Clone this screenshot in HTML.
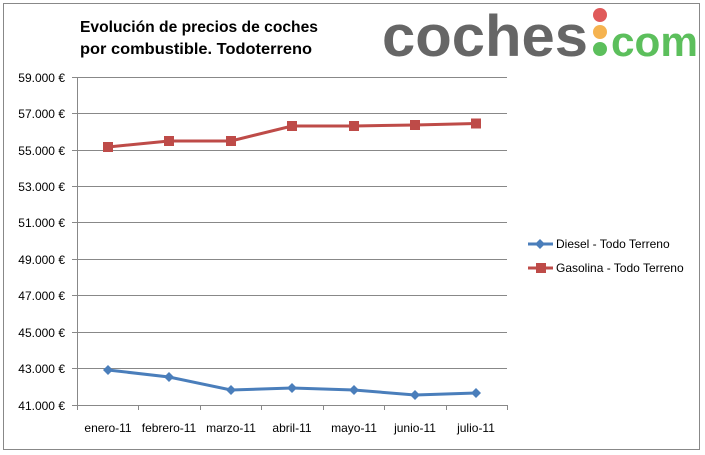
<!DOCTYPE html>
<html><head><meta charset="utf-8"><style>body{margin:0;background:#fff}svg{display:block}</style></head><body>
<svg width="705" height="455" xmlns="http://www.w3.org/2000/svg" font-family="Liberation Sans, sans-serif">
<rect x="0" y="0" width="705" height="455" fill="#fff"/>
<rect x="3.5" y="3.5" width="696" height="446" fill="none" stroke="#888" stroke-width="1"/>
<text x="80" y="32" font-size="16" font-weight="bold" fill="#000" textLength="238" lengthAdjust="spacingAndGlyphs">Evolución de precios de coches</text>
<text x="80" y="54" font-size="16" font-weight="bold" fill="#000" textLength="232" lengthAdjust="spacingAndGlyphs">por combustible. Todoterreno</text>
<text x="382" y="56" font-size="58" font-weight="bold" fill="#666" textLength="206" lengthAdjust="spacingAndGlyphs">coches</text>
<circle cx="600" cy="15" r="7" fill="#e05a5a"/>
<circle cx="600" cy="32" r="7" fill="#f5b350"/>
<circle cx="600" cy="49" r="7" fill="#5cbf5c"/>
<text x="611" y="56" font-size="42" font-weight="bold" fill="#5cbf5c" textLength="87" lengthAdjust="spacingAndGlyphs">com</text>
<g stroke="#888" stroke-width="1">
<line x1="72" y1="77.5" x2="507" y2="77.5"/><line x1="72" y1="113.5" x2="507" y2="113.5"/>
<line x1="72" y1="150.5" x2="507" y2="150.5"/><line x1="72" y1="186.5" x2="507" y2="186.5"/>
<line x1="72" y1="222.5" x2="507" y2="222.5"/><line x1="72" y1="259.5" x2="507" y2="259.5"/>
<line x1="72" y1="295.5" x2="507" y2="295.5"/><line x1="72" y1="332.5" x2="507" y2="332.5"/>
<line x1="72" y1="368.5" x2="507" y2="368.5"/><line x1="72" y1="405.5" x2="507" y2="405.5"/>
<line x1="77.5" y1="77" x2="77.5" y2="410"/>
<line x1="138.5" y1="405" x2="138.5" y2="410"/><line x1="200.5" y1="405" x2="200.5" y2="410"/>
<line x1="261.5" y1="405" x2="261.5" y2="410"/><line x1="323.5" y1="405" x2="323.5" y2="410"/>
<line x1="384.5" y1="405" x2="384.5" y2="410"/><line x1="446.5" y1="405" x2="446.5" y2="410"/>
<line x1="507.5" y1="405" x2="507.5" y2="410"/>
</g>
<g font-size="12" fill="#000" text-anchor="end">
<text x="65" y="82">59.000 €</text><text x="65" y="118">57.000 €</text>
<text x="65" y="155">55.000 €</text><text x="65" y="191">53.000 €</text>
<text x="65" y="227">51.000 €</text><text x="65" y="264">49.000 €</text>
<text x="65" y="300">47.000 €</text><text x="65" y="337">45.000 €</text>
<text x="65" y="373">43.000 €</text><text x="65" y="410">41.000 €</text>
</g>
<g font-size="12" fill="#000" text-anchor="middle">
<text x="108" y="432">enero-11</text><text x="169" y="432">febrero-11</text>
<text x="231" y="432">marzo-11</text><text x="292" y="432">abril-11</text>
<text x="354" y="432">mayo-11</text><text x="415" y="432">junio-11</text>
<text x="476" y="432">julio-11</text>
</g>
<polyline points="108,147 169,141 231,141 292,126 354,126 415,125 476,123.5" fill="none" stroke="#be4b48" stroke-width="3"/>
<g fill="#be4b48">
<rect x="103" y="142" width="10" height="10"/><rect x="164" y="136" width="10" height="10"/>
<rect x="226" y="136" width="10" height="10"/><rect x="287" y="121" width="10" height="10"/>
<rect x="349" y="121" width="10" height="10"/><rect x="410" y="120" width="10" height="10"/>
<rect x="471" y="118.5" width="10" height="10"/>
</g>
<polyline points="108,370 169,377 231,390 292,388 354,390 415,395 476,393" fill="none" stroke="#4a7ebb" stroke-width="3"/>
<g fill="#4a7ebb">
<path d="M108,365 l5,5 l-5,5 l-5,-5z"/><path d="M169,372 l5,5 l-5,5 l-5,-5z"/>
<path d="M231,385 l5,5 l-5,5 l-5,-5z"/><path d="M292,383 l5,5 l-5,5 l-5,-5z"/>
<path d="M354,385 l5,5 l-5,5 l-5,-5z"/><path d="M415,390 l5,5 l-5,5 l-5,-5z"/>
<path d="M476,388 l5,5 l-5,5 l-5,-5z"/>
</g>
<line x1="528" y1="244" x2="553" y2="244" stroke="#4a7ebb" stroke-width="3"/>
<path d="M540,239 l5,5 l-5,5 l-5,-5z" fill="#4a7ebb"/>
<line x1="528" y1="268" x2="553" y2="268" stroke="#be4b48" stroke-width="3"/>
<rect x="536" y="263" width="10" height="10" fill="#be4b48"/>
<text x="556" y="248" font-size="12">Diesel - Todo Terreno</text>
<text x="556" y="272" font-size="12">Gasolina - Todo Terreno</text>
</svg>
</body></html>
